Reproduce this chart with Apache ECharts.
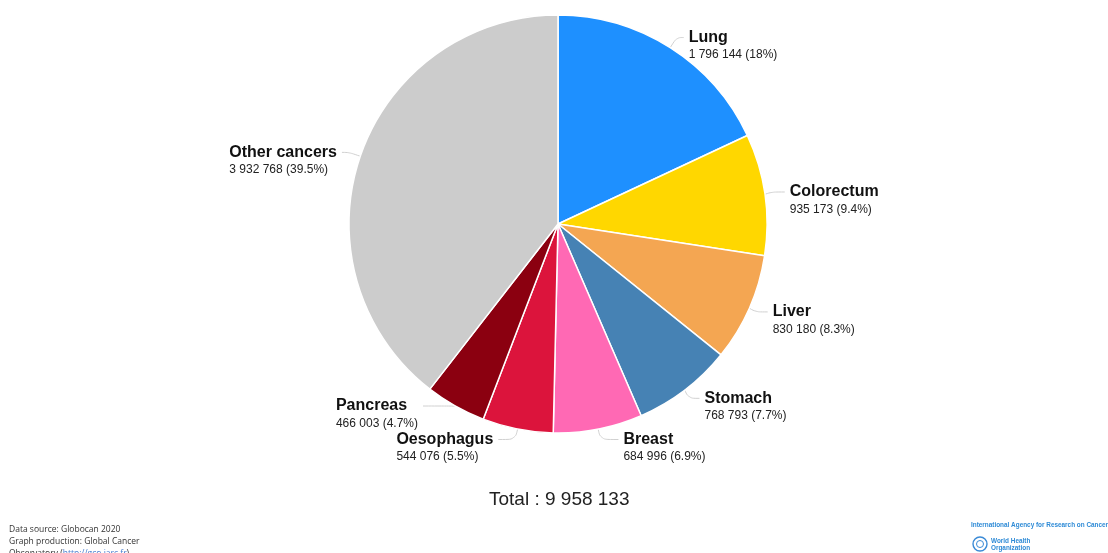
<!DOCTYPE html>
<html>
<head>
<meta charset="utf-8">
<title>Cancer deaths - Globocan 2020</title>
<script src="https://cdn.jsdelivr.net/npm/echarts@6/dist/echarts.min.js"></script>
<style>
html, body { margin: 0; padding: 0; background: #fff; }
#chart { width: 1108px; height: 553px; }
</style>
</head>
<body>
<div id="chart"></div>
<script>
// data
var cancers = ['Lung', 'Colorectum', 'Liver', 'Stomach', 'Breast', 'Oesophagus', 'Pancreas', 'Other cancers'];
var deaths = [1796144, 935173, 830180, 768793, 684996, 544076, 466003, 3932768];
var colours = ['#1E90FF', '#FFD700', '#F4A652', '#4682B4', '#FF69B4', '#DC143C', '#8B0010', '#CCCCCC'];
var total = 9958133;

// some labels sit a little further out from the pie in the original
var extraLine = { Colorectum: 6, Liver: 5, Stomach: 4, Breast: 11, Oesophagus: 10, Pancreas: 8 };

// 1796144 -> "1 796 144"
function spaced(n) {
    return String(n).replace(/\B(?=(\d{3})+(?!\d))/g, ' ');
}
function pct(n) {
    var p = Math.round(n / total * 1000) / 10;
    return String(p);
}

var pieData = cancers.map(function (c, i) {
    var item = { name: c, value: deaths[i], itemStyle: { color: colours[i] } };
    if (extraLine[c]) item.labelLine = { length2: 7 + extraLine[c] };
    return item;
});

var myChart = echarts.init(document.getElementById('chart'));
myChart.setOption({
    animation: false,
    textStyle: { fontFamily: 'Liberation Sans, Arial, sans-serif' },
    series: [
        {
            type: 'pie',
            top: 0,
            bottom: 89,   // keeps the bottom labels above the total, so overlapping ones move up
            center: [558, 224],
            radius: 209,
            startAngle: 90,
            clockwise: true,
            avoidLabelOverlap: true,
            itemStyle: { borderColor: '#fff', borderWidth: 1.5 },
            label: {
                show: true,
                position: 'outside',
                distanceToLabelLine: 5,
                padding: [8, 0, -8, 0],  // name row level with the line end, box height unchanged
                formatter: function (p) {
                    return '{n|' + p.name + '}\n{v|' + spaced(p.value) + ' (' + pct(p.value) + '%)}';
                },
                rich: {
                    n: { fontSize: 16, fontWeight: 'bold', color: '#111', lineHeight: 19, align: 'left', fontFamily: 'Liberation Sans' },
                    v: { fontSize: 12, color: '#222', lineHeight: 16, align: 'left', fontFamily: 'Liberation Sans' }
                }
            },
            labelLine: {
                show: true,
                length: 12,
                length2: 7,
                smooth: 0.4,
                lineStyle: { color: '#d0d0d0', width: 1 }
            },
            emphasis: { disabled: true },
            data: pieData
        }
    ],
    graphic: [
        {
            type: 'text', left: 489, top: 490,
            style: { text: 'Total : ' + spaced(total), fontSize: 19, fill: '#222', fontFamily: 'Liberation Sans' }
        },
        {
            type: 'text', left: 9, top: 524,
            style: {
                text: 'Data source: Globocan 2020\nGraph production: Global Cancer\nObservatory ({l|http://gco.iarc.fr})',
                fontSize: 8.5, lineHeight: 12, fill: '#333', fontFamily: 'Open Sans',
                rich: { l: { fontSize: 8.5, fill: '#4a7fd0', fontFamily: 'Open Sans', textDecoration: 'underline' } }
            }
        },
        {
            type: 'text', left: 971, top: 522,
            style: { text: 'International Agency for Research on Cancer', fontSize: 6.4, fill: '#2d8ad6', fontWeight: 'bold', fontFamily: 'Liberation Sans' }
        },
        {
            type: 'circle', shape: { cx: 980, cy: 544, r: 7 },
            style: { fill: 'none', stroke: '#3a8ad6', lineWidth: 1.4 }
        },
        {
            type: 'circle', shape: { cx: 980, cy: 544, r: 3.5 },
            style: { fill: 'none', stroke: '#3a8ad6', lineWidth: 1 }
        },
        {
            type: 'text', left: 991, top: 538,
            style: { text: 'World Health\nOrganization', fontSize: 6.4, lineHeight: 7, fill: '#2d8ad6', fontWeight: 'bold', fontFamily: 'Liberation Sans' }
        }
    ]
});
</script>
</body>
</html>
